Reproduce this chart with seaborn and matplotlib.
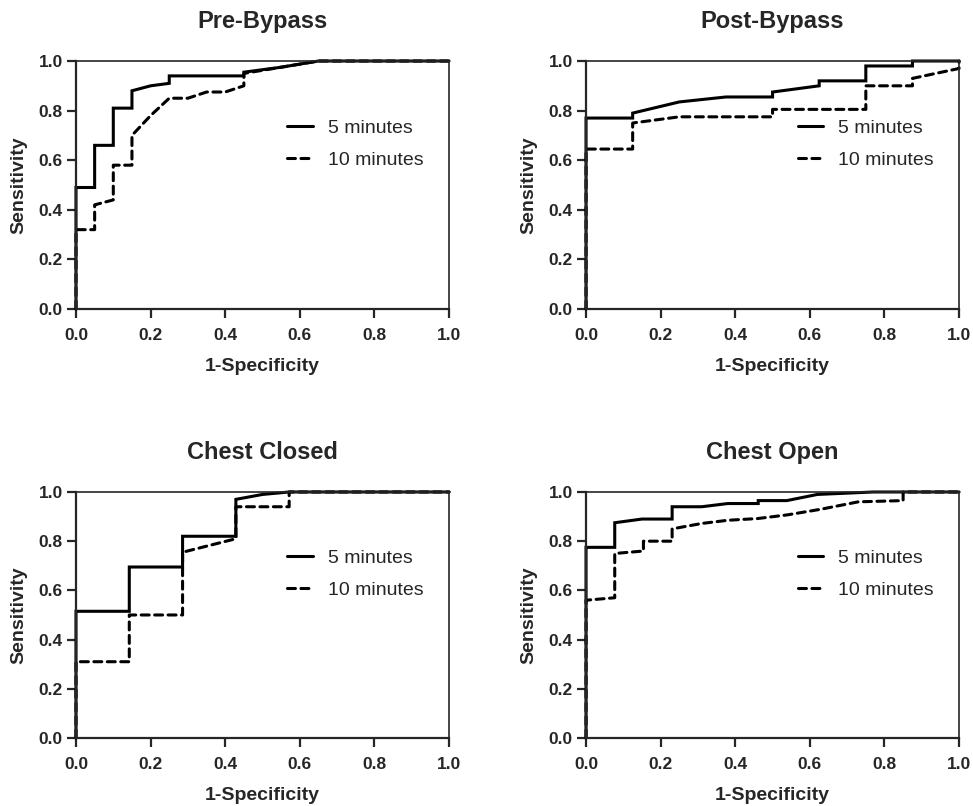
import pandas as pd
import seaborn as sns
import matplotlib.pyplot as plt

titulos = ["Pre-Bypass", "Post-Bypass", "Chest Closed", "Chest Open"]
series = ["5 minutes", "10 minutes"]

pre_x_5 = [0, 0, 0.05, 0.05, 0.10, 0.10, 0.15, 0.15, 0.20, 0.25, 0.25, 0.45, 0.45, 0.55, 0.65, 1.0]
pre_y_5 = [0, 0.49, 0.49, 0.66, 0.66, 0.81, 0.81, 0.88, 0.90, 0.91, 0.94, 0.94, 0.955, 0.975, 1.0, 1.0]
pre_x_10 = [0, 0, 0.05, 0.05, 0.10, 0.10, 0.15, 0.15, 0.20, 0.25, 0.30, 0.35, 0.40, 0.45, 0.45, 0.55, 0.65, 1.0]
pre_y_10 = [0, 0.32, 0.32, 0.42, 0.44, 0.58, 0.58, 0.70, 0.78, 0.85, 0.85, 0.875, 0.875, 0.90, 0.95, 0.975, 1.0, 1.0]

post_x_5 = [0, 0, 0.125, 0.125, 0.25, 0.375, 0.5, 0.5, 0.625, 0.625, 0.75, 0.75, 0.875, 0.875, 1.0]
post_y_5 = [0, 0.77, 0.77, 0.79, 0.835, 0.855, 0.855, 0.875, 0.90, 0.92, 0.92, 0.98, 0.98, 1.0, 1.0]
post_x_10 = [0, 0, 0.125, 0.125, 0.25, 0.5, 0.5, 0.75, 0.75, 0.875, 0.875, 1.0, 1.0]
post_y_10 = [0, 0.645, 0.645, 0.75, 0.775, 0.775, 0.805, 0.805, 0.90, 0.90, 0.93, 0.97, 1.0]

closed_x_5 = [0, 0, 1/7, 1/7, 2/7, 2/7, 3/7, 3/7, 0.5, 4/7, 1.0]
closed_y_5 = [0, 0.515, 0.515, 0.695, 0.695, 0.82, 0.82, 0.97, 0.99, 1.0, 1.0]
closed_x_10 = [0, 0, 1/7, 1/7, 2/7, 2/7, 3/7, 3/7, 4/7, 4/7, 1.0]
closed_y_10 = [0, 0.31, 0.31, 0.50, 0.50, 0.755, 0.81, 0.94, 0.94, 1.0, 1.0]

open_x_5 = [0, 0, 1/13, 1/13, 0.15, 3/13, 3/13, 0.31, 0.38, 6/13, 6/13, 7/13, 0.62, 0.77, 1.0]
open_y_5 = [0, 0.775, 0.775, 0.875, 0.89, 0.89, 0.94, 0.94, 0.953, 0.953, 0.965, 0.965, 0.99, 1.0, 1.0]
open_x_10 = [0, 0, 1/13, 1/13, 2/13, 2/13, 3/13, 3/13, 0.31, 0.38, 0.46, 0.54, 0.63, 0.73, 0.85, 0.85, 1.0]
open_y_10 = [0, 0.56, 0.57, 0.75, 0.76, 0.80, 0.80, 0.85, 0.872, 0.885, 0.892, 0.907, 0.93, 0.96, 0.965, 1.0, 1.0]

curvas = {
    "Pre-Bypass": [(pre_x_5, pre_y_5), (pre_x_10, pre_y_10)],
    "Post-Bypass": [(post_x_5, post_y_5), (post_x_10, post_y_10)],
    "Chest Closed": [(closed_x_5, closed_y_5), (closed_x_10, closed_y_10)],
    "Chest Open": [(open_x_5, open_y_5), (open_x_10, open_y_10)],
}

filas = []
for panel, pares in curvas.items():
    for nombre, (xs, ys) in zip(series, pares):
        for x, y in zip(xs, ys):
            filas.append({"panel": panel, "serie": nombre, "x": x, "y": y})
df = pd.DataFrame(filas)

sns.set_style("ticks")
plt.rcParams["font.family"] = ["Liberation Sans", "DejaVu Sans"]

fig = plt.figure(figsize=(9.73, 8.06), dpi=100)
posiciones = [
    [0.0781, 0.6166, 0.3834, 0.3077],
    [0.6023, 0.6166, 0.3834, 0.3077],
    [0.0781, 0.0844, 0.3834, 0.3052],
    [0.6023, 0.0844, 0.3834, 0.3052],
]
etiquetas = ["0.0", "0.2", "0.4", "0.6", "0.8", "1.0"]
marcas = [0, 0.2, 0.4, 0.6, 0.8, 1.0]

for titulo, pos in zip(titulos, posiciones):
    ax = fig.add_axes(pos)
    sub = df[df["panel"] == titulo]
    sns.lineplot(
        data=sub, x="x", y="y", style="serie", style_order=series,
        dashes={"5 minutes": "", "10 minutes": (2.6, 1.8)},
        color="black", linewidth=2.2, sort=False, estimator=None,
        units="serie", ax=ax,
    )
    for ln in ax.get_lines():
        ln.set_clip_on(False)
        ln.set_dash_capstyle("round")
        ln.set_solid_joinstyle("miter")

    ax.set_xlim(0, 1)
    ax.set_ylim(0, 1)
    ax.set_xticks(marcas)
    ax.set_yticks(marcas)
    ax.set_xticklabels(etiquetas)
    ax.set_yticklabels(etiquetas)
    ax.tick_params(axis="both", direction="out", length=6.5, width=1.6,
                   labelsize=12.5)
    ax.tick_params(axis="x", pad=7)
    ax.tick_params(axis="y", pad=3)
    for lab in ax.get_xticklabels() + ax.get_yticklabels():
        lab.set_fontweight("bold")
    for lado in ["left", "bottom"]:
        ax.spines[lado].set_linewidth(1.6)
    for lado in ["top", "right"]:
        ax.spines[lado].set_visible(True)
        ax.spines[lado].set_linewidth(1.2)

    ax.set_title(titulo, fontsize=17, fontweight="bold", pad=24)
    ax.set_xlabel("1-Specificity", fontsize=14, fontweight="bold", labelpad=11)
    ax.set_ylabel("Sensitivity", fontsize=14, fontweight="bold", labelpad=8)

    handles, labels = ax.get_legend_handles_labels()
    ax.legend(handles, labels, frameon=False, fontsize=14,
              loc="center left", bbox_to_anchor=(0.52, 0.665),
              handlelength=1.3, handletextpad=0.77, labelspacing=0.75)

plt.savefig("out.png", dpi=100)
